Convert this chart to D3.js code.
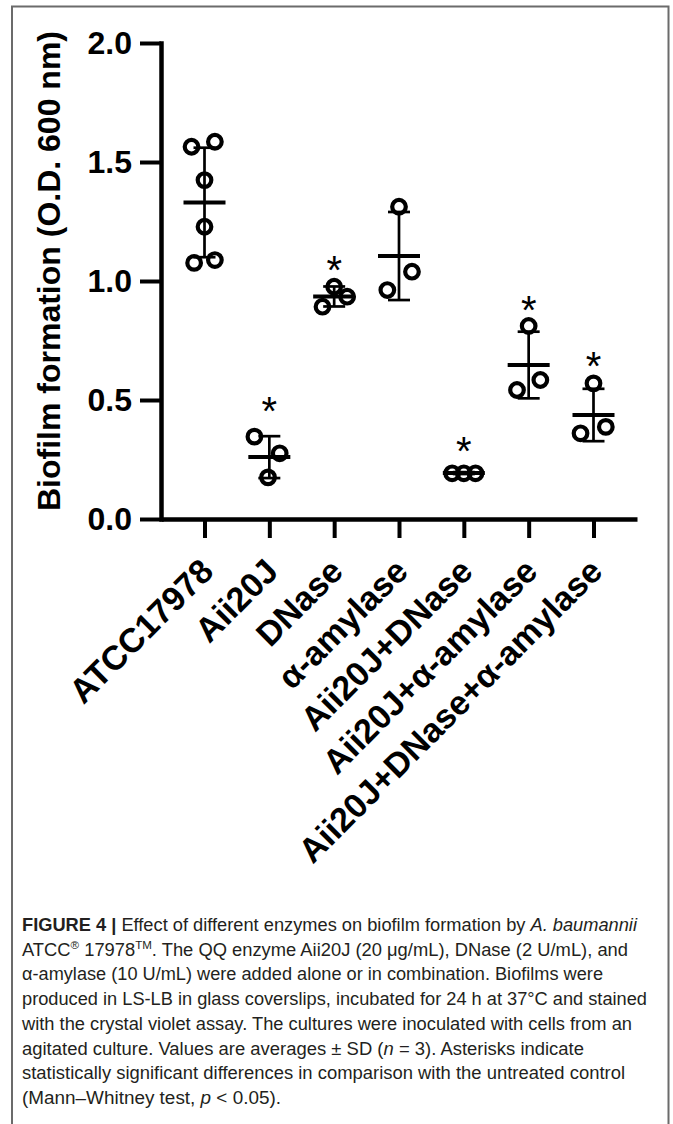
<!DOCTYPE html>
<html>
<head>
<meta charset="utf-8">
<script src="https://cdn.jsdelivr.net/npm/d3@7"></script>
<style>
body { margin: 0; background: #fff; }
svg { display: block; }
</style>
</head>
<body>
<script>
/* global d3 */

const width = 673
const height = 1124

// groups on the x axis
const groups = ['ATCC17978', 'Aii20J', 'DNase', 'α-amylase', 'Aii20J+DNase', 'Aii20J+α-amylase', 'Aii20J+DNase+α-amylase']
// individual replicates, O.D. 600 nm
const points = [
  [1.564, 1.585, 1.424, 1.228, 1.076, 1.088],
  [0.346, 0.276, 0.175],
  [0.976, 0.934, 0.892],
  [1.312, 1.039, 0.962],
  [0.192, 0.192, 0.192],
  [0.811, 0.584, 0.542],
  [0.570, 0.387, 0.360]
]
// horizontal scatter of the replicates, as a fraction of one category step
const jitter = [
  [-0.2, 0.16, 0, 0, -0.16, 0.16],
  [-0.23, 0.16, -0.02],
  [0, 0.2, -0.18],
  [0, 0.2, -0.18],
  [-0.18, 0, 0.18],
  [0, 0.18, -0.18],
  [0, 0.19, -0.2]
]
const means = [1.33, 0.26, 0.935, 1.105, 0.193, 0.647, 0.437]
const sds = [0.23, 0.088, 0.042, 0.185, 0.004, 0.14, 0.11]
// level of the significance asterisk (null = none)
const starLevels = [null, 0.487, 1.081, null, 0.319, 0.913, 0.675]
const yTicks = [0, 0.5, 1.0, 1.5, 2.0]
const yLabel = 'Biofilm formation (O.D. 600 nm)'

// caption lines: [text, style] pieces
const caption = [
  [['FIGURE 4 | ', 'b'], ['Effect of different enzymes on biofilm formation by '], ['A. baumannii', 'i']],
  [['ATCC'], ['®', 'sup'], [' 17978'], ['TM', 'sup'], ['. The QQ enzyme Aii20J (20 μg/mL), DNase (2 U/mL), and']],
  [['α-amylase (10 U/mL) were added alone or in combination. Biofilms were']],
  [['produced in LS-LB in glass coverslips, incubated for 24 h at 37°C and stained']],
  [['with the crystal violet assay. The cultures were inoculated with cells from an']],
  [['agitated culture. Values are averages ± SD ('], ['n', 'i'], [' = 3). Asterisks indicate']],
  [['statistically significant differences in comparison with the untreated control']],
  [['(Mann–Whitney test, '], ['p', 'i'], [' < 0.05).']]
]
const captionWidths = [615, 606, 581, 625, 610, 562, 603, 259]

const font = '"Liberation Sans", Arial, Helvetica, sans-serif'

const svg = d3.select('body').append('svg')
  .attr('width', width)
  .attr('height', height)

// panel frame
svg.append('rect')
  .attr('x', 12).attr('y', 6.5)
  .attr('width', 656.5).attr('height', 1200)
  .attr('fill', 'none')
  .attr('stroke', '#6b6b6b')
  .attr('stroke-width', 2)

const x = d3.scalePoint()
  .domain(groups)
  .range([161, 637])
  .padding(0.671)

const y = d3.scaleLinear()
  .domain([0, 2])
  .range([519, 43])

const step = x.step()

// y axis
const gy = svg.append('g')
  .attr('transform', 'translate(161,0)')
  .call(d3.axisLeft(y).tickValues(yTicks).tickFormat(d3.format('.1f')).tickSize(21).tickSizeOuter(0).tickPadding(8))
gy.select('.domain').attr('stroke-width', 4.5).attr('stroke-linecap', 'square')
gy.selectAll('.tick line').attr('stroke-width', 4)
gy.selectAll('.tick text')
  .attr('font-family', font)
  .attr('font-weight', 'bold')
  .attr('font-size', 32)
  .attr('fill', '#000')

// x axis
const gx = svg.append('g')
  .attr('transform', 'translate(0,519)')
  .call(d3.axisBottom(x).tickSize(19).tickSizeOuter(0))
gx.select('.domain').attr('stroke-width', 4.5)
gx.selectAll('.tick line').attr('stroke-width', 4)
gx.selectAll('.tick text')
  .attr('font-family', font)
  .attr('font-weight', 'bold')
  .attr('font-size', 34)
  .attr('fill', '#000')
  .attr('text-anchor', 'end')
  .attr('x', 0).attr('y', 0)
  .attr('dy', '0.72em')
  .attr('transform', 'translate(-7,37) rotate(-45)')

// y axis title
svg.append('text')
  .attr('transform', `translate(60,${(y(0) + y(2)) / 2 - 10}) rotate(-90)`)
  .attr('text-anchor', 'middle')
  .attr('font-family', font)
  .attr('font-weight', 'bold')
  .attr('font-size', 32)
  .text(yLabel)

// error bars, means and replicates
const grp = svg.append('g').selectAll('g')
  .data(groups)
  .join('g')
  .attr('transform', d => `translate(${x(d)},0)`)

grp.append('line')
  .attr('y1', (d, i) => y(means[i] + sds[i]))
  .attr('y2', (d, i) => y(means[i] - sds[i]))
  .attr('stroke', '#000').attr('stroke-width', 2.7)

grp.selectAll('line.cap')
  .data((d, i) => [means[i] + sds[i], means[i] - sds[i]])
  .join('line')
  .attr('class', 'cap')
  .attr('x1', -11).attr('x2', 11)
  .attr('y1', d => y(d)).attr('y2', d => y(d))
  .attr('stroke', '#000').attr('stroke-width', 2.7)

grp.append('line')
  .attr('x1', -21).attr('x2', 21)
  .attr('y1', (d, i) => y(means[i]))
  .attr('y2', (d, i) => y(means[i]))
  .attr('stroke', '#000').attr('stroke-width', 4)

grp.selectAll('circle')
  .data((d, i) => points[i].map((v, j) => ({ v, dx: jitter[i][j] })))
  .join('circle')
  .attr('cx', d => d.dx * step)
  .attr('cy', d => y(d.v))
  .attr('r', 6.8)
  .attr('fill', 'none')
  .attr('stroke', '#000')
  .attr('stroke-width', 4.2)

grp.filter((d, i) => starLevels[i] !== null)
  .append('text')
  .attr('y', d => y(starLevels[groups.indexOf(d)]) + 22)
  .attr('text-anchor', 'middle')
  .attr('font-family', font)
  .attr('font-size', 40)
  .text('*')

// caption
const cap = svg.append('g')
  .attr('font-family', '"Liberation Sans Narrow", "Arial Narrow", "Liberation Sans", Arial, sans-serif')
  .attr('font-size', 17.5)
  .attr('fill', '#231f20')

caption.forEach((line, li) => {
  const t = cap.append('text')
    .attr('x', 22)
    .attr('y', 931 + li * 24.7)
    .attr('textLength', captionWidths[li])
    .attr('lengthAdjust', 'spacingAndGlyphs')
  let raised = false
  line.forEach(([str, style]) => {
    const s = t.append('tspan').text(str)
    if (style === 'b') s.attr('font-weight', 'bold')
    if (style === 'i') s.attr('font-style', 'italic')
    if (style === 'sup') {
      s.attr('font-size', 11).attr('dy', raised ? 0 : -7)
      raised = true
    } else if (raised) {
      s.attr('dy', 7)
      raised = false
    }
  })
})
</script>
</body>
</html>
